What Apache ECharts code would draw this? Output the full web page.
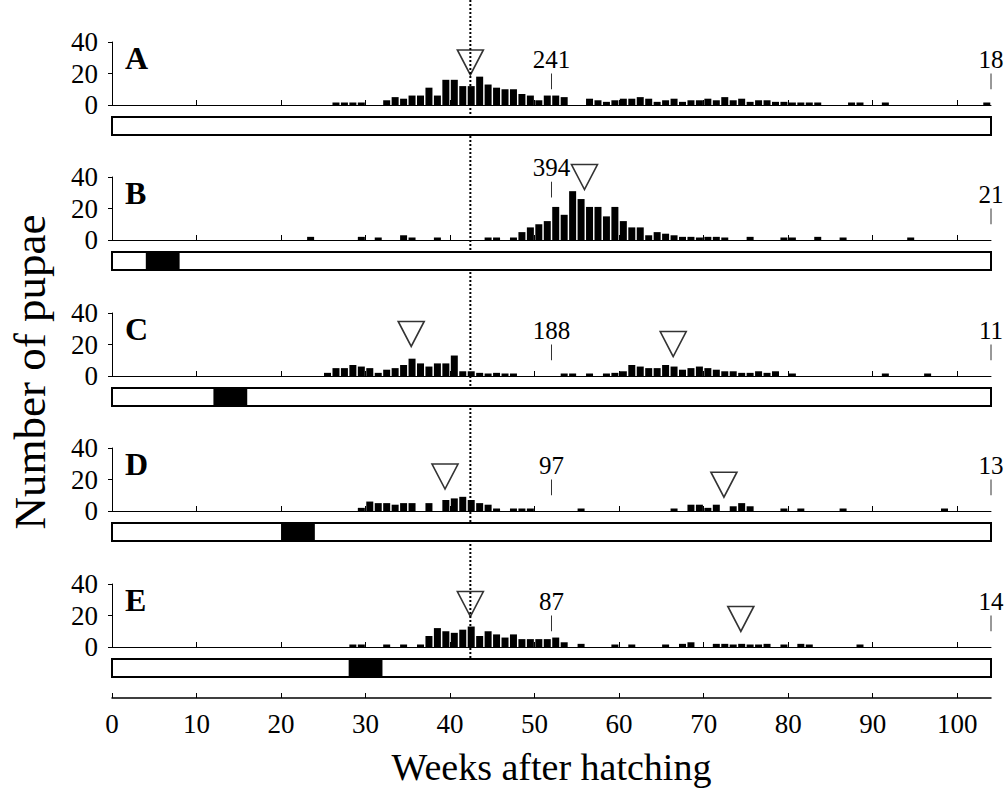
<!DOCTYPE html>
<html>
<head>
<meta charset="utf-8">
<title>Pupation by week after hatching</title>
<script src="https://cdn.jsdelivr.net/npm/echarts@6/dist/echarts.min.js"></script>
<style>
  html, body { margin: 0; padding: 0; background: #fff; }
  #chart { width: 1006px; height: 790px; }
</style>
</head>
<body>
<div id="chart"></div>
<script>
  // weekly pupation counts, week n = (n-1 .. n] weeks after hatching
  const weeksA = [27, 28, 29, 30, 33, 34, 35, 36, 37, 38, 39, 40, 41, 42, 43, 44, 45, 46, 47, 48, 49, 50, 51, 52, 53, 54,
    57, 58, 59, 60, 61, 62, 63, 64, 65, 66, 67, 68, 69, 70, 71, 72, 73, 74, 75, 76, 77, 78, 79, 80, 81, 82, 83, 84, 88, 89, 92, 104];
  const countsA = [1, 1, 1, 1, 3, 5, 4, 6, 6, 11, 6, 16, 16, 12, 12, 18, 13, 11, 10, 10, 7, 6, 3, 6, 6, 5,
    4, 3, 2, 3, 4, 4, 5, 4, 2, 3, 4, 2, 3, 3, 4, 3, 5, 3, 4, 2, 3, 3, 2, 2, 1, 1, 1, 1, 1, 1, 1, 1];

  const weeksB = [24, 30, 32, 35, 36, 39, 45, 46, 48, 49, 50, 51, 52, 53, 54, 55, 56, 57, 58, 59, 60, 61, 62, 63, 64, 65,
    66, 67, 68, 69, 70, 71, 72, 73, 76, 80, 81, 84, 87, 95];
  const countsB = [2, 2, 1, 3, 1, 1, 1, 1, 1, 5, 8, 10, 12, 21, 16, 31, 26, 21, 21, 15, 21, 12, 8, 8, 3, 5,
    4, 3, 2, 2, 1, 2, 2, 1, 2, 1, 1, 2, 1, 1];

  const weeksC = [26, 27, 28, 29, 30, 31, 32, 33, 34, 35, 36, 37, 38, 39, 40, 41, 42, 43, 44, 45, 46, 47, 48, 54, 55, 57,
    59, 60, 61, 62, 63, 64, 65, 66, 67, 68, 69, 70, 71, 72, 73, 74, 75, 76, 77, 78, 79, 81, 92, 97];
  const countsC = [2, 5, 5, 7, 6, 5, 2, 4, 5, 7, 11, 8, 6, 8, 8, 13, 3, 3, 2, 1, 2, 1, 1, 1, 1, 1,
    1, 2, 3, 7, 6, 5, 5, 7, 6, 4, 5, 6, 5, 4, 3, 3, 2, 2, 3, 2, 3, 1, 1, 1];

  const weeksD = [30, 31, 32, 33, 34, 35, 36, 38, 40, 41, 42, 43, 44, 45, 46, 48, 49, 50, 56, 67, 69, 70, 71, 72, 74, 75,
    76, 80, 82, 87, 99];
  const countsD = [2, 6, 5, 5, 4, 5, 5, 5, 7, 8, 9, 7, 5, 4, 1, 1, 1, 1, 1, 1, 4, 4, 2, 4, 3, 5,
    3, 1, 1, 1, 1];

  const weeksE = [29, 30, 33, 35, 37, 38, 39, 40, 41, 42, 43, 44, 45, 46, 47, 48, 49, 50, 51, 52, 53, 54, 56, 60, 62, 66,
    68, 69, 72, 73, 74, 75, 76, 77, 78, 80, 82, 83, 89];
  const countsE = [1, 1, 1, 1, 1, 7, 12, 10, 9, 11, 13, 7, 10, 8, 6, 8, 5, 5, 5, 5, 6, 3, 2, 1, 1, 1,
    2, 3, 2, 2, 1, 2, 1, 1, 2, 1, 2, 1, 1];

  const panelNames = ['A', 'B', 'C', 'D', 'E'];
  const panelWeeks = [weeksA, weeksB, weeksC, weeksD, weeksE];
  const panelCounts = [countsA, countsB, countsC, countsD, countsE];

  // treatment period (black block), weeks
  const treatWeeks = [null, [4, 8], [12, 16], [20, 24], [28, 32]];

  // numbers written at week 52 and week 104
  const noteWeeks = [52, 104];
  const noteTexts = [['241', '18'], ['394', '21'], ['188', '11'], ['97', '13'], ['87', '14']];
  const noteLevels = [[10, 10], [27, 10], [10, 10], [10, 10], [10, 10]];

  // open triangles marking peaks
  const peakWeeks = [[42.4], [55.9], [35.4, 66.4], [39.4, 72.4], [42.4, 74.4]];
  const peakLevels = [[27], [40], [26.7, 20.3], [21.9, 16.7], [27.3, 17.8]];

  const refWeek = 42.4;
  const weekMax = 104;
  const weekTicks = [0, 10, 20, 30, 40, 50, 60, 70, 80, 90, 100];
  const countMax = 40;

  const SERIF = 'Liberation Serif, Times New Roman, serif';
  const panelTops = [42, 177, 313, 448, 584];
  const panelH = 63;
  const left = 112;
  const plotW = 879;

  const chart = echarts.init(document.getElementById('chart'), null, { renderer: 'svg' });

  const grid = [];
  const xAxis = [];
  const yAxis = [];
  const series = [];
  const graphic = [];

  const hidden = { show: false };

  // 0: overlay for the dotted reference line
  grid.push({ left: left, width: plotW, top: 0, height: 658, outerBoundsMode: 'none' });
  xAxis.push({ gridIndex: 0, type: 'value', min: 0, max: weekMax, show: false });
  yAxis.push({ gridIndex: 0, type: 'value', min: 0, max: 1, show: false });
  series.push({
    type: 'line',
    xAxisIndex: 0,
    yAxisIndex: 0,
    data: [[refWeek, 0], [refWeek, 1]],
    symbol: 'none',
    silent: true,
    z: 1,
    lineStyle: { color: '#000', width: 2, type: [2, 2] },
  });

  // 1..5: histogram panels
  panelNames.forEach((name, p) => {
    const g = grid.length;
    grid.push({ left: left, width: plotW, top: panelTops[p], height: panelH, outerBoundsMode: 'none' });
    xAxis.push({
      gridIndex: g,
      type: 'value',
      min: 0,
      max: weekMax,
      axisLine: { show: true, onZero: false, lineStyle: { color: '#000', width: 1 } },
      axisTick: { show: true, inside: true, length: 5, customValues: weekTicks.slice(1), lineStyle: { color: '#000' } },
      axisLabel: { show: false },
      splitLine: hidden,
    });
    yAxis.push({
      gridIndex: g,
      type: 'value',
      min: 0,
      max: countMax,
      interval: 20,
      axisLine: { show: true, lineStyle: { color: '#000', width: 1 } },
      axisTick: { show: true, length: 4, lineStyle: { color: '#000' } },
      axisLabel: { fontFamily: SERIF, fontSize: 27, color: '#000', margin: 14 },
      splitLine: hidden,
    });

    series.push({
      type: 'bar',
      xAxisIndex: g,
      yAxisIndex: g,
      data: panelWeeks[p].map((w, i) => [w - 0.5, panelCounts[p][i]]),
      barWidth: 7,
      barMinHeight: 2.5,
      itemStyle: { color: '#000' },
      z: 2,
    });

    series.push({
      type: 'scatter',
      xAxisIndex: g,
      yAxisIndex: g,
      data: peakWeeks[p].map((w, i) => [w, peakLevels[p][i]]),
      symbol: 'triangle',
      symbolRotate: 180,
      symbolSize: [26, 25],
      itemStyle: { color: 'rgba(0,0,0,0)', borderColor: '#000', borderWidth: 1.6 },
      z: 3,
    });

    series.push({
      type: 'custom',
      xAxisIndex: g,
      yAxisIndex: g,
      data: noteWeeks.map((w, i) => [w, noteLevels[p][i], noteLevels[p][i] + 10]),
      z: 3,
      renderItem: (params, api) => {
        const lo = api.coord([api.value(0), api.value(1)]);
        const hi = api.coord([api.value(0), api.value(2)]);
        return {
          type: 'group',
          children: [
            { type: 'line', shape: { x1: lo[0], y1: lo[1], x2: hi[0], y2: hi[1] }, style: { stroke: '#333', lineWidth: 1 } },
            {
              type: 'text',
              x: hi[0],
              y: hi[1] - 2,
              style: {
                text: noteTexts[p][params.dataIndex],
                fontFamily: SERIF,
                fontSize: 25,
                fill: '#000',
                align: 'center',
                verticalAlign: 'bottom',
              },
            },
          ],
        };
      },
    });

    graphic.push({
      type: 'text',
      x: 125,
      y: panelTops[p] + panelH - 47,
      style: { text: name, fontFamily: SERIF, fontSize: 32, fontWeight: 'bold', fill: '#000', verticalAlign: 'middle' },
    });
  });

  // 6..10: treatment strips
  panelNames.forEach((name, p) => {
    const g = grid.length;
    grid.push({ left: left, width: plotW, top: panelTops[p] + panelH + 12, height: 18, outerBoundsMode: 'none' });
    xAxis.push({ gridIndex: g, type: 'value', min: 0, max: weekMax, show: false });
    yAxis.push({ gridIndex: g, type: 'value', min: 0, max: 1, show: false });
    const strip = (fill, stroke) => (params, api) => {
      const a = api.coord([api.value(0), 1]);
      const b = api.coord([api.value(1), 0]);
      return {
        type: 'rect',
        shape: { x: a[0], y: a[1], width: b[0] - a[0], height: b[1] - a[1] },
        style: { fill: fill, stroke: stroke, lineWidth: 2 },
      };
    };
    series.push({
      type: 'custom',
      xAxisIndex: g,
      yAxisIndex: g,
      data: [[0, weekMax]],
      z: 5,
      renderItem: strip('#fff', '#000'),
    });
    series.push({
      type: 'custom',
      xAxisIndex: g,
      yAxisIndex: g,
      data: treatWeeks[p] ? [treatWeeks[p]] : [],
      z: 6,
      renderItem: strip('#000', null),
    });
  });

  // 11: shared week axis
  const gb = grid.length;
  grid.push({ left: left, width: plotW, top: 697, height: 1, outerBoundsMode: 'none' });
  xAxis.push({
    gridIndex: gb,
    type: 'value',
    min: 0,
    max: weekMax,
    name: 'Weeks after hatching',
    nameLocation: 'middle',
    nameGap: 50,
    nameTextStyle: { fontFamily: SERIF, fontSize: 38, color: '#000' },
    axisLine: { show: true, onZero: false, lineStyle: { color: '#000', width: 1.5 } },
    axisTick: { show: true, inside: true, length: 5, customValues: weekTicks, lineStyle: { color: '#000' } },
    axisLabel: { customValues: weekTicks, fontFamily: SERIF, fontSize: 27, color: '#000', margin: 12 },
    splitLine: hidden,
  });
  yAxis.push({ gridIndex: gb, type: 'value', show: false });

  graphic.push({
    type: 'text',
    x: 30,
    y: 372,
    rotation: Math.PI / 2,
    style: { text: 'Number of pupae', fontFamily: SERIF, fontSize: 45, fill: '#000', align: 'center', verticalAlign: 'middle' },
  });

  chart.setOption({
    animation: false,
    backgroundColor: '#fff',
    grid,
    xAxis,
    yAxis,
    series,
    graphic,
  });
</script>
</body>
</html>
